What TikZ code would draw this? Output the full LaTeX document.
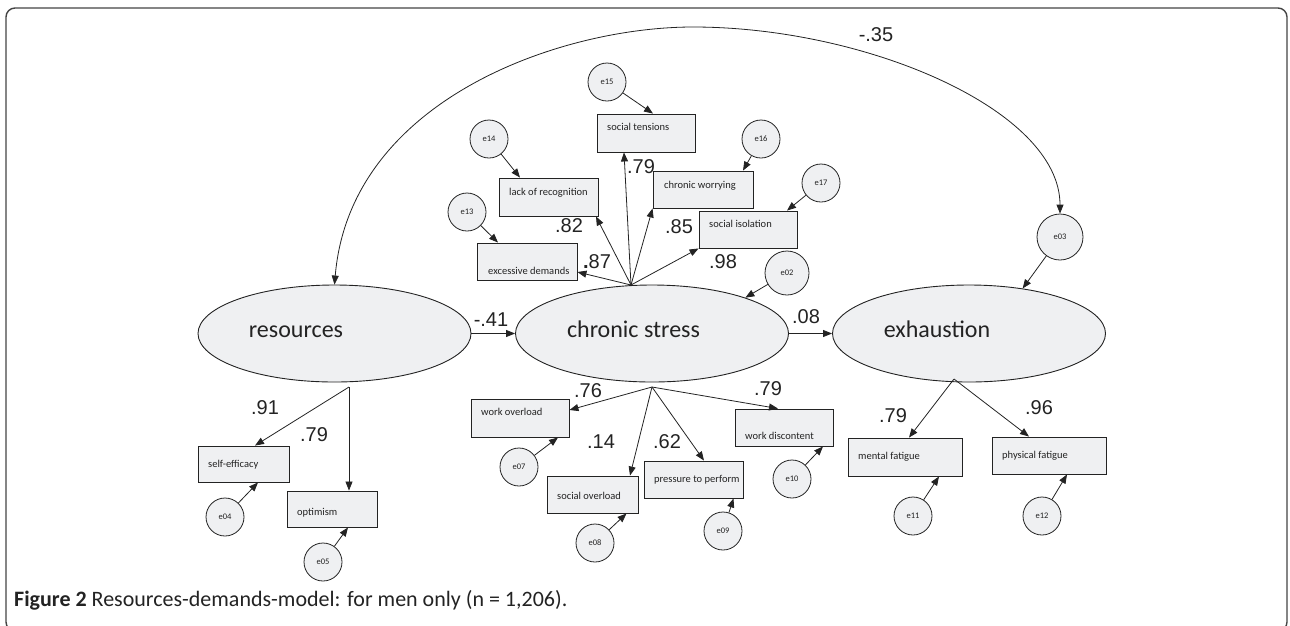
\documentclass[tikz,border=0pt]{standalone}
\usepackage{fontspec}
\setmainfont{Carlito}
\newfontfamily\numfont{Liberation Sans}
\usetikzlibrary{arrows.meta,calc,shapes.geometric}
\definecolor{shapefill}{RGB}{239,240,242}
\definecolor{ink}{RGB}{35,35,35}
\begin{document}
\begin{tikzpicture}[x=1pt,y=-1pt,
  lat/.style={ellipse, draw=ink, fill=shapefill, line width=0.9pt, inner sep=0pt, minimum width=273pt, minimum height=97pt},
  lattxt/.style={inner sep=0pt, font=\fontsize{24}{28}\selectfont, text height=1ex, text depth=0pt, text=ink},
  obs/.style={rectangle, draw=ink, fill=shapefill, line width=0.9pt, inner sep=0pt},
  err/.style={circle, draw=ink, fill=shapefill, line width=0.8pt, inner sep=0pt, minimum size=38pt, font=\fontsize{8.5}{10}\selectfont, text=ink},
  arr/.style={draw=ink, line width=0.8pt, -{Triangle[length=9pt,width=7pt]}},
  coef/.style={font=\numfont\fontsize{20}{24}\selectfont, inner sep=0pt, text=ink},
  btxt/.style={anchor=west, inner sep=0pt, font=\fontsize{10.5}{12}\selectfont, text height=1ex, text depth=0pt, text=ink}]
\useasboundingbox (0,0) rectangle (1290,625);
\clip (0,0) rectangle (1290,625);
% frame
\draw[ink!85, line width=1.4pt, rounded corners=9pt] (6,8) rectangle (1287,631);

% latent variables
\node[lat, label={[lattxt, xshift=-38.5pt, yshift=-1.5pt]center:resources}] (res) at (334.5,333.5) {};
\node[lat, label={[lattxt, xshift=-18.5pt, yshift=-1.5pt]center:chronic stress}] (cs) at (652,333.5) {};
\node[lat, label={[lattxt, xshift=-32pt, yshift=-1.5pt]center:exhaustion}] (ex) at (969,333.5) {};

% observed variables (boxes)
\node[obs, minimum width=98pt, minimum height=38pt] (st) at (646,133) {};
\node[btxt] (stT) at (607,128) {social tensions};
\node[obs, minimum width=99pt, minimum height=38pt] (lr) at (548.5,197) {};
\node[btxt] (lrT) at (509,193) {lack of recognition};
\node[obs, minimum width=100pt, minimum height=37pt] (ed) at (527,261.5) {};
\node[btxt] (edT) at (488,272) {excessive demands};
\node[obs, minimum width=100pt, minimum height=37pt] (cw) at (703,189.5) {};
\node[btxt] (cwT) at (664,186) {chronic worrying};
\node[obs, minimum width=98pt, minimum height=37pt] (si) at (748,229.5) {};
\node[btxt] (siT) at (709,225) {social isolation};
\node[obs, minimum width=98pt, minimum height=38pt] (wo) at (520,418) {};
\node[btxt] (woT) at (481,413) {work overload};
\node[obs, minimum width=91pt, minimum height=37pt] (so) at (592.5,494.5) {};
\node[btxt] (soT) at (557,497) {social overload};
\node[obs, minimum width=99pt, minimum height=37pt] (pp) at (693.5,479.5) {};
\node[btxt] (ppT) at (654,480) {pressure to perform};
\node[obs, minimum width=98pt, minimum height=37pt] (wd) at (784,427.5) {};
\node[btxt] (wdT) at (745,437) {work discontent};
\node[obs, minimum width=91pt, minimum height=36pt] (se) at (243.5,464) {};
\node[btxt] (seT) at (208,465) {self-efficacy};
\node[obs, minimum width=90pt, minimum height=36pt] (op) at (332,509) {};
\node[btxt] (opT) at (297,513) {optimism};
\node[obs, minimum width=114pt, minimum height=38pt] (mf) at (905,457) {};
\node[btxt] (mfT) at (858,457) {mental fatigue};
\node[obs, minimum width=114pt, minimum height=37pt] (pf) at (1049,455.5) {};
\node[btxt] (pfT) at (1002,456) {physical fatigue};

% error terms
\node[err, minimum size=44pt] (e02) at (787,273) {e02};
\node[err, minimum size=46pt] (e03) at (1060,237) {e03};
\node[err] (e04) at (225,517) {e04};
\node[err] (e05) at (323,562) {e05};
\node[err] (e07) at (519,467) {e07};
\node[err] (e08) at (595,543) {e08};
\node[err] (e09) at (723,531) {e09};
\node[err] (e10) at (792,479) {e10};
\node[err] (e11) at (913,516) {e11};
\node[err] (e12) at (1042,516) {e12};
\node[err] (e13) at (467,212) {e13};
\node[err] (e14) at (489,139) {e14};
\node[err] (e15) at (607,82) {e15};
\node[err] (e16) at (761,139) {e16};
\node[err] (e17) at (821,183) {e17};

% branching points
\coordinate (cstop) at (631,285);
\coordinate (csbot) at (652,387);
\coordinate (resbot) at (349,387);
\coordinate (exbot) at (954,379);
\coordinate (apex) at (693,27);

% structural paths
\draw[arr] (res.east) -- (cs.west);
\draw[arr] (cs.east) -- (ex.west);
\draw[draw=ink, line width=0.8pt, {Triangle[length=9pt,width=7pt]}-{Triangle[length=9pt,width=7pt]}]
  (res.north) .. controls (350,100) and (560,27) .. (apex)
  .. controls (866,27) and (1060,110) .. (e03.north);

% loadings chronic stress (upper)
\draw[arr] (cstop) -- ([yshift=-10.5pt]ed.east);
\draw[arr] (cstop) -- ([xshift=47.5pt]lr.south);
\draw[arr] (cstop) -- ([xshift=-22pt]st.south);
\draw[arr] (cstop) -- (cw.south west);
\draw[arr] (cstop) -- (si.south west);
% loadings chronic stress (lower)
\draw[arr] (csbot) -- ([yshift=8pt]wo.east);
\draw[arr] (csbot) -- ([xshift=37.5pt]so.north);
\draw[arr] (csbot) -- ([xshift=10.5pt]pp.north);
\draw[arr] (csbot) -- ([xshift=-6pt]wd.north);
% loadings resources
\draw[arr] (resbot) -- ([xshift=11.5pt]se.north);
\draw[arr] (resbot) -- ([xshift=17pt]op.north);
% loadings exhaustion
\draw[arr] (exbot) -- ([xshift=4pt]mf.north);
\draw[arr] (exbot) -- ([xshift=-20pt]pf.north);

% error arrows
\draw[arr] (e15) -- ([xshift=7pt]st.north);
\draw[arr] (e14) -- ([xshift=-28.5pt]lr.north);
\draw[arr] (e13) -- ([xshift=-29pt]ed.north);
\draw[arr] (e16) -- ([xshift=40pt]cw.north);
\draw[arr] (e17) -- ([xshift=39pt]si.north);
\draw[arr] (e02) -- (cs.21.5);
\draw[arr] (e03) -- (ex.40);
\draw[arr] (e07) -- ([xshift=38pt]wo.south);
\draw[arr] (e08) -- ([xshift=34pt]so.south);
\draw[arr] (e09) -- ([xshift=40pt]pp.south);
\draw[arr] (e10) -- ([xshift=39pt]wd.south);
\draw[arr] (e04) -- ([xshift=14.5pt]se.south);
\draw[arr] (e05) -- ([xshift=16pt]op.south);
\draw[arr] (e11) -- ([xshift=34pt]mf.south);
\draw[arr] (e12) -- ([xshift=18pt]pf.south);

% coefficients
\node[coef] (c41) at (491,320) {-.41};
\node[coef] (c08) at (806,317) {.08};
\node[coef] (c35) at (876,35) {-.35};
\node[coef] (cst) at (641,167) {.79};
\node[coef] (clr) at (569,226) {.82};
\node[coef] (ccw) at (679,227) {.85};
\node[coef] (ced) at (597,262) {{\bfseries .}87};
\node[coef] (csi) at (723,262) {.98};
\node[coef] (cwo) at (588,391) {.76};
\node[coef] (cso) at (601,442) {.14};
\node[coef] (cpp) at (667,442) {.62};
\node[coef] (cwd) at (768,389) {.79};
\node[coef] (cse) at (265,408) {.91};
\node[coef] (cop) at (314,435) {.79};
\node[coef] (cmf) at (893,416) {.79};
\node[coef] (cpf) at (1039,408) {.96};

% caption
\node[anchor=base west, inner sep=0pt, font=\fontsize{22}{26}\selectfont, text=ink] (cap) at (14,606)
  {\textbf{Figure 2} Resources-demands-model: for men only (n = 1,206).};
\end{tikzpicture}
\end{document}
